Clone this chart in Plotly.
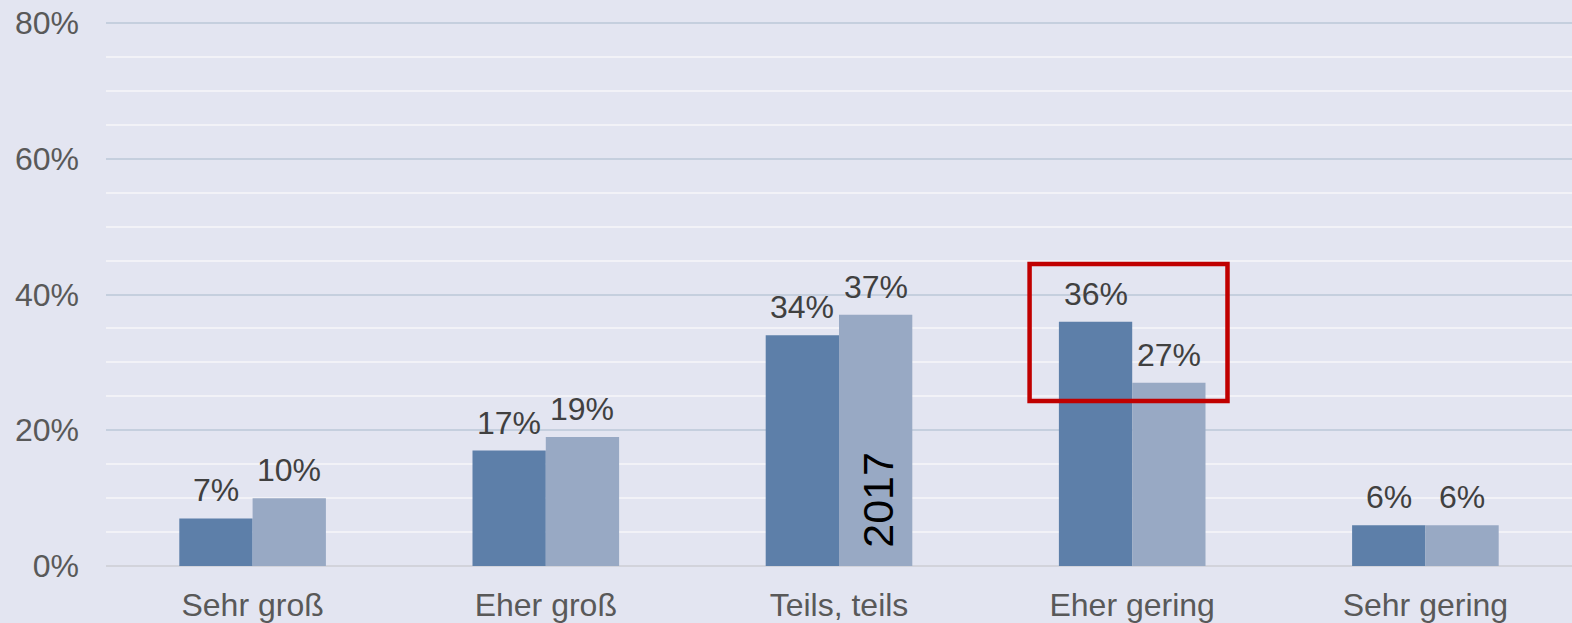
import plotly.graph_objects as go

categories = ["Sehr groß", "Eher groß", "Teils, teils", "Eher gering", "Sehr gering"]
series_a = [7, 17, 34, 36, 6]
series_b = [10, 19, 37, 27, 6]
y_ticks = [0, 20, 40, 60, 80]
y_tick_labels = ["0%", "20%", "40%", "60%", "80%"]

FONT = "Liberation Sans, Arial, sans-serif"
FS = 32
x_idx = list(range(len(categories)))
BAR_OFF = 0.125

fig = go.Figure()
fig.add_trace(go.Bar(x=x_idx, y=series_a, marker=dict(color="#5D7FA9", line=dict(width=0))))
fig.add_trace(go.Bar(x=x_idx, y=series_b, marker=dict(color="#98A9C4", line=dict(width=0))))

for i, v in enumerate(series_a):
    fig.add_annotation(x=i - BAR_OFF, y=v, xref="x", yref="y", text=f"{v}%", showarrow=False,
                       yanchor="middle", yshift=28, font=dict(family=FONT, size=FS, color="#404040"))
for i, v in enumerate(series_b):
    fig.add_annotation(x=i + BAR_OFF, y=v, xref="x", yref="y", text=f"{v}%", showarrow=False,
                       yanchor="middle", yshift=28, font=dict(family=FONT, size=FS, color="#404040"))

fig.add_annotation(x=2.135, y=9.7, xref="x", yref="y", text="2017", textangle=-90,
                   showarrow=False, font=dict(family=FONT, size=43, color="#000000"))
fig.add_shape(type="rect", xref="x", yref="y", x0=2.65, x1=3.325, y0=24.3, y1=44.5,
              line=dict(color="#C00000", width=4.5), fillcolor="rgba(0,0,0,0)")

fig.update_layout(
    width=1572, height=623,
    margin=dict(l=106, r=0, t=20, b=57),
    paper_bgcolor="#E3E5F1", plot_bgcolor="#E3E5F1",
    barmode="group", bargap=0.5, bargroupgap=0,
    showlegend=False,
    font=dict(family=FONT, size=FS, color="#595959"),
)
fig.update_xaxes(
    tickmode="array", tickvals=x_idx, ticktext=categories, range=[-0.5, 4.5],
    showgrid=False, showline=False, ticks="", ticklabelstandoff=17,
    tickfont=dict(family=FONT, size=FS, color="#595959"),
)
fig.update_yaxes(
    range=[0, 80.442], tickmode="array", tickvals=y_ticks, ticktext=y_tick_labels,
    showgrid=True, gridcolor="#C5CFDE", gridwidth=2,
    minor=dict(dtick=5, showgrid=True, gridcolor="#F2F2F7", gridwidth=2, ticks=""),
    zeroline=True, zerolinecolor="#D2D3DB", zerolinewidth=2,
    showline=False, ticks="", ticklabelstandoff=26,
    tickfont=dict(family=FONT, size=FS, color="#595959"),
)

fig.write_html("out.html", config={"displayModeBar": False},
               post_script="document.body.style.margin='0';document.body.style.background='#E3E5F1';")
